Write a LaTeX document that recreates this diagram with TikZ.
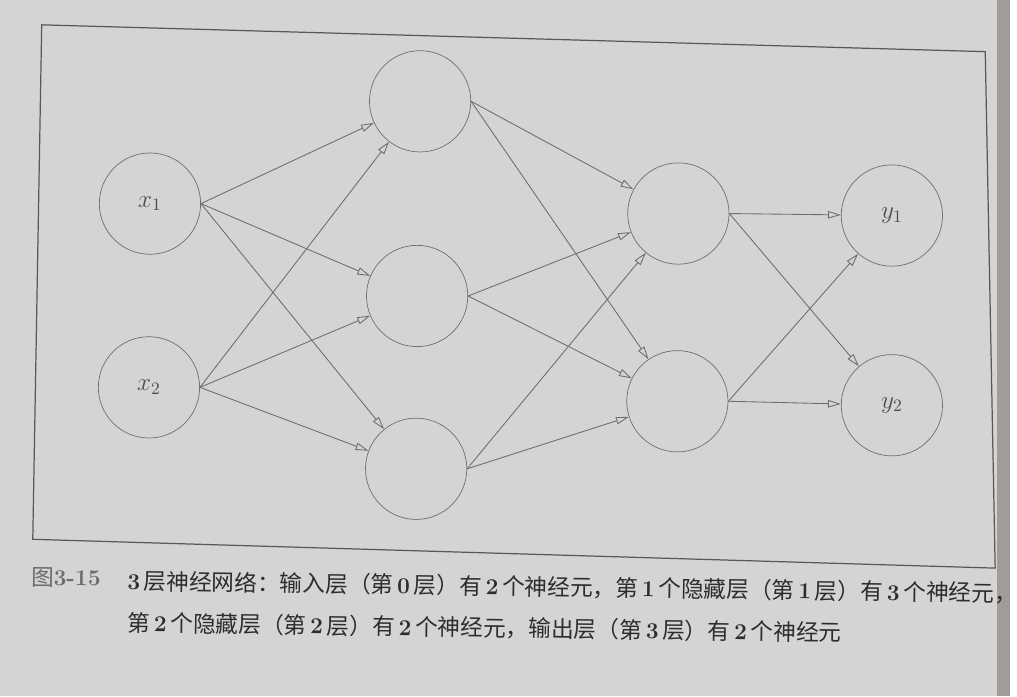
\documentclass[tikz,border=0pt]{standalone}
\usepackage{fontspec}
\newfontfamily\cjk{Noto Sans CJK SC}
\usetikzlibrary{arrows.meta}
\definecolor{paper}{RGB}{214,212,210}
\definecolor{ink}{RGB}{110,110,110}
\definecolor{print}{RGB}{45,45,45}
\definecolor{pageedge}{RGB}{160,156,152}
\newcommand\dg[1]{\,{\rmfamily\bfseries #1}\,}

\begin{document}
\begin{tikzpicture}[x=0.02cm, y=-0.02cm,
		neuron/.style={draw=ink, circle, minimum size=2.04cm, inner sep=0pt, text=ink!70!black, font=\fontsize{14}{17}\selectfont},
		link/.style={draw=ink, line width=0.5pt, -{Triangle[open, length=2.6mm, width=1.5mm]}},
		caption/.style={anchor=west, inner sep=0pt, text=print, rotate=-0.8, font=\cjk\fontsize{13}{16}\selectfont}]
		\fill[paper] (0,0) rectangle (1017,701);
		\fill[pageedge] (1004,0) rectangle (1017,701);
		\draw[ink!80!black, line width=0.7pt] (42,25) -- (992,52) -- (1002,572) -- (33,543) -- cycle;

		\node (x1)[neuron] at (151,205) {$x_1$};
		\node (x2)[neuron] at (150,390) {$x_2$};
		\node (h1)[neuron] at (423,102) {};
		\node (h2)[neuron] at (420,298) {};
		\node (h3)[neuron] at (419,472) {};
		\node (k1)[neuron] at (683,215) {};
		\node (k2)[neuron] at (682,404) {};
		\node (y1)[neuron] at (898,217) {$y_1$};
		\node (y2)[neuron] at (898,408) {$y_2$};

		\draw [link](x1.east)--(h1);
		\draw [link](x1.east)--(h2);
		\draw [link](x1.east)--(h3);
		\draw [link](x2.east)--(h1);
		\draw [link](x2.east)--(h2);
		\draw [link](x2.east)--(h3);

		\draw [link](h1.east)--(k1);
		\draw [link](h1.east)--(k2);
		\draw [link](h2.east)--(k1);
		\draw [link](h2.east)--(k2);
		\draw [link](h3.east)--(k1);
		\draw [link](h3.east)--(k2);

		\draw [link](k1.east)--(y1);
		\draw [link](k1.east)--(y2);
		\draw [link](k2.east)--(y1);
		\draw [link](k2.east)--(y2);

		\node (fig)[caption, text=print!70] at (31,581) {图{\rmfamily\bfseries 3-15}};
		\node (cap1)[caption] at (128,585) {{\rmfamily\bfseries 3}\,层神经网络：输入层（第\dg{0}层）有\dg{2}个神经元，第\dg{1}个隐藏层（第\dg{1}层）有\dg{3}个神经元，};
		\node (cap2)[caption] at (128,627) {第\dg{2}个隐藏层（第\dg{2}层）有\dg{2}个神经元，输出层（第\dg{3}层）有\dg{2}个神经元};
	\end{tikzpicture}
\end{document}
